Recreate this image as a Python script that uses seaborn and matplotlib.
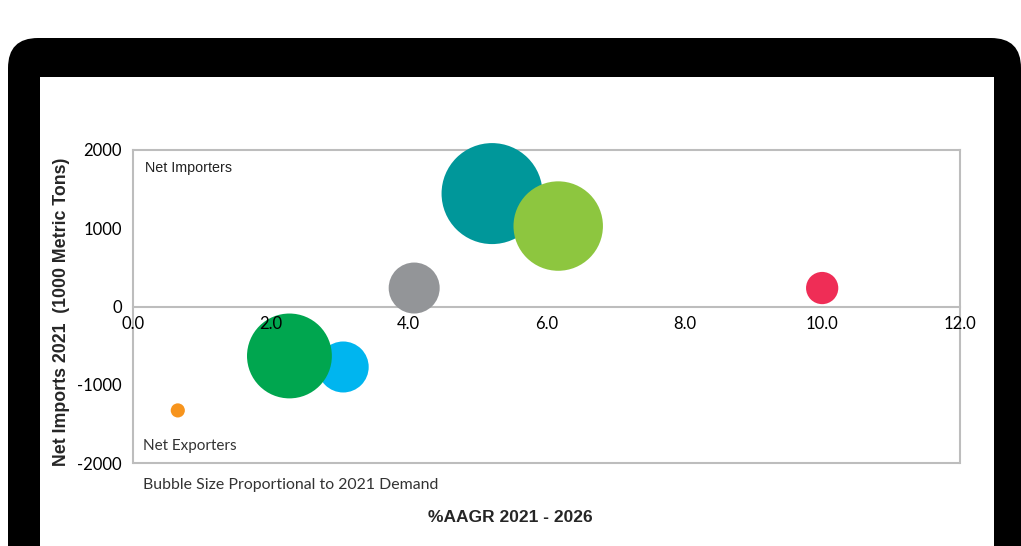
import seaborn as sns
import matplotlib.pyplot as plt
import pandas as pd
from matplotlib.patches import FancyBboxPatch, Rectangle

# bubble data
regions = ["Orange", "Blue", "Green", "Gray", "Teal", "Light Green", "Red"]
aagr = [0.65, 3.05, 2.27, 4.08, 5.21, 6.17, 10.0]
net_imports = [-1328, -773, -632, 236, 1443, 1028, 236]
demand = [50, 650, 1800, 650, 2550, 2000, 260]
colors = ["#F7941D", "#00B5EF", "#00A64F", "#939598", "#00979A", "#8DC63F", "#EF2D56"]

x_ticks = [0, 2, 4, 6, 8, 10, 12]
x_tick_labels = ["0.0", "2.0", "4.0", "6.0", "8.0", "10.0", "12.0"]
y_ticks = [-2000, -1000, 0, 1000, 2000]
y_tick_labels = ["-2000", "-1000", "0", "1000", "2000"]

df = pd.DataFrame({"region": regions, "aagr": aagr, "net": net_imports, "demand": demand})

sns.set_style("white")
plt.rcParams["font.family"] = ["Lato", "DejaVu Sans"]

W, H = 1021, 546
fig = plt.figure(figsize=(W / 100, H / 100), dpi=100)
fig.patch.set_facecolor("white")

# tablet-like black frame with white screen
frame = FancyBboxPatch((8, -80), 1013, 546 - 38 + 80, boxstyle="round,pad=0,rounding_size=30",
                       transform=None, facecolor="black", edgecolor="none", zorder=-2)
screen = Rectangle((40, -20), 954, 546 - 77 + 20, transform=None,
                   facecolor="white", edgecolor="none", zorder=-1)
fig.add_artist(frame)
fig.add_artist(screen)

ax = fig.add_axes([133 / W, 1 - 463 / H, (960 - 133) / W, (463 - 150) / H])
ax.set_facecolor("none")

sns.scatterplot(data=df, x="aagr", y="net", hue="region", palette=dict(zip(regions, colors)),
                size="demand", sizes=(0, 5288), size_norm=(0, 2550), legend=False,
                linewidth=0, ax=ax, zorder=3, clip_on=False)

ax.set_xlim(0, 12)
ax.set_ylim(-2000, 2000)
ax.set_xticks(x_ticks, x_tick_labels)
ax.set_yticks(y_ticks, y_tick_labels)
ax.set_xlabel("")
ax.set_ylabel("")

spine_col = "#BDBDBD"
for s in ax.spines.values():
    s.set_color(spine_col)
    s.set_linewidth(1.5)
ax.spines["bottom"].set_position(("data", 0))
ax.axhline(-2000, color=spine_col, linewidth=1.5, clip_on=False, zorder=2.5)

ax.tick_params(axis="both", length=0, labelsize=12, labelcolor="black")
ax.tick_params(axis="x", pad=7)
ax.tick_params(axis="y", pad=8)
# x tick labels sit on top of the bubbles
ax.xaxis.set_zorder(4)

ax.text(0.17, 1775, "Net Importers", fontsize=10.3, family=["Liberation Sans"],
        ha="left", va="center", color="#222222")
ax.text(0.15, -1788, "Net Exporters", fontsize=11, ha="left", va="center", color="#333333")
ax.text(0.15, -2285, "Bubble Size Proportional to 2021 Demand", fontsize=11.4,
        ha="left", va="center", color="#333333")

fig.text(62 / W, 1 - 312 / H, "Net Imports 2021  (1000 Metric Tons)", rotation=90,
         fontsize=12.8, fontweight="bold", family=["Liberation Sans"], ha="center", va="center")
fig.text(510 / W, 1 - 518 / H, "%AAGR 2021 - 2026", fontsize=12.5, fontweight="bold",
         family=["Liberation Sans"], ha="center", va="center")

fig.savefig("out.png", dpi=100)
